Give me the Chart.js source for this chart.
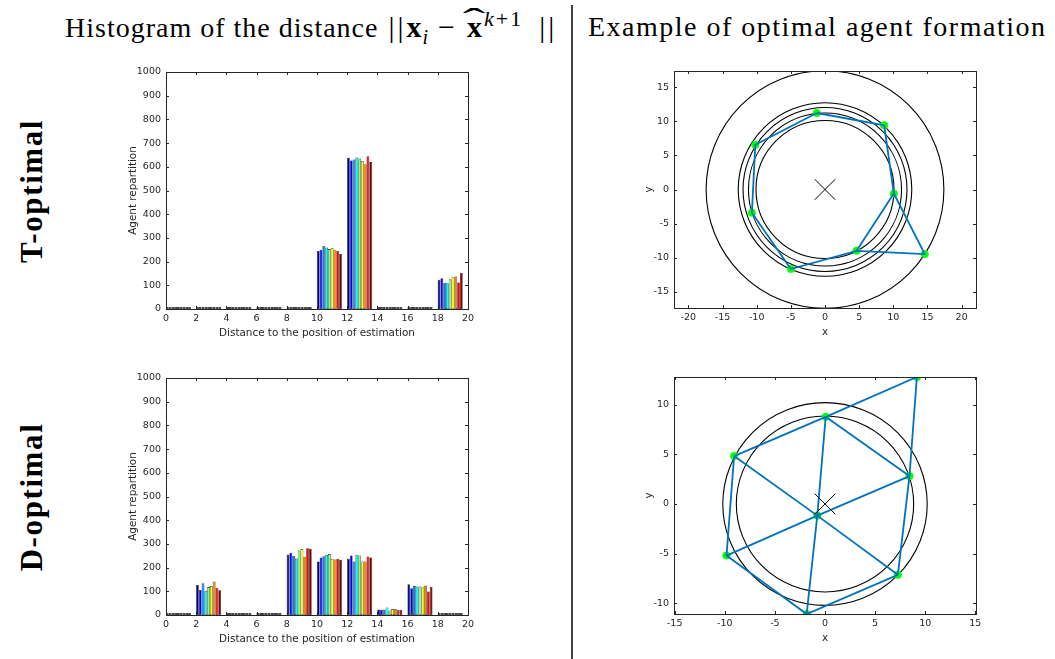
<!DOCTYPE html>
<html>
<head>
<meta charset="utf-8">
<script src="https://cdn.jsdelivr.net/npm/chart.js@4.4.1/dist/chart.umd.min.js"></script>
<style>
  html, body { margin: 0; padding: 0; background: #fff; }
  body { width: 1055px; height: 659px; position: relative; overflow: hidden; }
  canvas { position: absolute; }
  .title {
    position: absolute; top: 13px;
    font-family: 'Liberation Serif', serif; font-size: 28px; line-height: 28px;
    white-space: nowrap; color: #000;
  }
  #titleLeft { left: 65px; letter-spacing: 1px; }
  #titleRight { left: 588px; letter-spacing: 1.5px; }
  .math { letter-spacing: 0; font-size: 30px; margin-left: 2px; }
  .math b { font-weight: bold; }
  .bars { letter-spacing: 3px; }
  .minus { margin: 0 10px; }
  .hat { position: relative; display: inline-block; margin-left: 2px; }
  .hat::before {
    content: '\02C6'; position: absolute; left: 50%; top: -8px; font-size: 32px;
    transform: translateX(-50%) scaleX(2.1); font-weight: normal;
  }
  sub, sup { font-size: 20px; line-height: 0; }
  sub { margin-left: 1px; }
  sup { font-size: 22px; letter-spacing: 2px; margin-left: 2px; margin-right: 16px; }
  .rowLabel {
    position: absolute;
    font-family: 'Liberation Serif', serif; font-weight: bold;
    font-size: 31px; line-height: 31px; letter-spacing: 1.6px; white-space: nowrap;
    transform: translate(-50%, -50%) rotate(-90deg);
  }
  #divider { position: absolute; left: 571px; top: 5px; width: 1.5px; height: 654px; background: #444; }
</style>
</head>
<body>
<div class="title" id="titleLeft">Histogram of the distance <span class="math"><span class="bars">||</span><b>x</b><sub><i>i</i></sub><span class="minus">−</span><span class="hat"><b>x</b></span><sup><i>k</i>+1</sup><span class="bars">||</span></span></div>
<div class="title" id="titleRight">Example of optimal agent formation</div>
<div class="rowLabel" style="left:31px; top:191px;">T-optimal</div>
<div class="rowLabel" style="left:31px; top:497px;">D-optimal</div>
<div id="divider"></div>

<canvas id="histT" width="384" height="290" style="left:96px; top:60px;"></canvas>
<canvas id="histD" width="384" height="290" style="left:96px; top:366px;"></canvas>
<canvas id="formT" width="384" height="290" style="left:604px; top:59px;"></canvas>
<canvas id="formD" width="384" height="290" style="left:604px; top:365px;"></canvas>

<script>
// histogram bins (left edge of each 2-wide bin)
const binLeft = [0, 2, 4, 6, 8, 10, 12, 14, 16, 18];
const histXTicks = [0, 2, 4, 6, 8, 10, 12, 14, 16, 18, 20];
const histYTicks = [0, 100, 200, 300, 400, 500, 600, 700, 800, 900, 1000];

// one row per series (colour), one column per bin
const tOptimalCounts = [
  [0, 0, 0, 0, 0, 245, 638, 0, 0, 123],
  [0, 0, 0, 0, 0, 250, 627, 0, 0, 130],
  [0, 0, 0, 0, 0, 266, 631, 0, 0, 111],
  [0, 0, 0, 0, 0, 259, 639, 0, 0, 109],
  [0, 0, 0, 0, 0, 253, 635, 0, 0, 126],
  [0, 0, 0, 0, 0, 256, 625, 0, 0, 135],
  [0, 0, 0, 0, 0, 250, 611, 0, 0, 137],
  [0, 0, 0, 0, 0, 245, 645, 0, 0, 112],
  [0, 0, 0, 0, 0, 232, 620, 0, 0, 152]
];
const dOptimalCounts = [
  [0, 127, 0, 0, 255, 226, 237, 23, 130, 0],
  [0, 106, 0, 0, 263, 243, 251, 22, 113, 0],
  [0, 134, 0, 0, 249, 248, 226, 23, 122, 0],
  [0, 102, 0, 0, 238, 254, 254, 32, 120, 0],
  [0, 118, 0, 0, 272, 257, 251, 19, 120, 0],
  [0, 122, 0, 0, 278, 237, 226, 25, 117, 0],
  [0, 141, 0, 0, 246, 234, 226, 24, 124, 0],
  [0, 115, 0, 0, 282, 237, 247, 22, 99, 0],
  [0, 104, 0, 0, 280, 233, 243, 22, 119, 0]
];

// jet colormap, 9 steps
const jetColors = ['#000080', '#0000ff', '#0080ff', '#00ffff', '#80ff80', '#ffff00', '#ff8000', '#ff0000', '#800000'];

// agent formations
const tAgentX = [-1.2, 8.66, 10.07, 14.6, 4.62, -5.0, -10.7, -10.2];
const tAgentY = [11.2, 9.4, -0.58, -9.46, -8.98, -11.65, -3.4, 6.55];
const tPath = [0, 1, 2, 3, 4, 5, 6, 7, 0, null, 2, 4];
const tRadii = [17.4, 12.7, 12.0, 11.2, 10.1];
const tXTicks = [-20, -15, -10, -5, 0, 5, 10, 15, 20];
const tYTicks = [-15, -10, -5, 0, 5, 10, 15];

const dAgentX = [9.17, 0.07, -9.07, 8.43, -0.77, -9.83, 7.27, -1.83];
const dAgentY = [12.78, 8.77, 4.82, 2.81, -1.17, -5.19, -7.13, -11.08];
const dPath = [2, 1, 0, 3, 6, 7, 5, 2, null, 1, 3, null, 1, 4, 7, null, 2, 4, 6, null, 5, 4, 3];
const dRadii = [10.2, 8.85];
const dXTicks = [-15, -10, -5, 0, 5, 10, 15];
const dYTicks = [-10, -5, 0, 5, 10];

const AXIS_COLOR = '#262626';
const tickFont = { family: 'DejaVu Sans', size: 9.5 };
const titleFont = { family: 'DejaVu Sans', size: 10.4 };
const GROUP_SHIFT = 0.82;   // bar groups sit right of the bin edge

Chart.defaults.animation = false;
Chart.defaults.plugins.legend.display = false;
Chart.defaults.plugins.tooltip.enabled = false;

// box around the plot area with inward ticks on all four sides
const frame = {
  id: 'frame',
  afterDatasetsDraw(chart) {
    const { ctx, chartArea: a, scales: { x, y } } = chart;
    const len = 3;
    ctx.save();
    ctx.strokeStyle = AXIS_COLOR;
    ctx.lineWidth = 1;
    ctx.strokeRect(a.left + 0.5, a.top + 0.5, a.right - a.left, a.bottom - a.top);
    ctx.beginPath();
    x.ticks.forEach(t => {
      const px = Math.round(x.getPixelForValue(t.value)) + 0.5;
      ctx.moveTo(px, a.bottom); ctx.lineTo(px, a.bottom - len);
      ctx.moveTo(px, a.top); ctx.lineTo(px, a.top + len);
    });
    y.ticks.forEach(t => {
      const py = Math.round(y.getPixelForValue(t.value)) + 0.5;
      ctx.moveTo(a.left, py); ctx.lineTo(a.left + len, py);
      ctx.moveTo(a.right, py); ctx.lineTo(a.right - len, py);
    });
    ctx.stroke();
    ctx.restore();
  }
};

// circles centred on the origin
const rings = {
  id: 'rings',
  beforeDatasetsDraw(chart, args, opts) {
    if (!opts.radii) return;
    const { ctx, chartArea: a, scales: { x, y } } = chart;
    const cx = x.getPixelForValue(0), cy = y.getPixelForValue(0);
    ctx.save();
    ctx.beginPath();
    ctx.rect(a.left, a.top, a.right - a.left, a.bottom - a.top);
    ctx.clip();
    ctx.strokeStyle = '#000';
    ctx.lineWidth = 1.1;
    opts.radii.forEach(r => {
      ctx.beginPath();
      ctx.ellipse(cx, cy, Math.abs(x.getPixelForValue(r) - cx), Math.abs(y.getPixelForValue(r) - cy), 0, 0, Math.PI * 2);
      ctx.stroke();
    });
    ctx.restore();
  }
};

function axis(min, max, ticks, title, isX, titlePad) {
  return {
    type: 'linear',
    min: min,
    max: max,
    offset: false,
    afterBuildTicks: s => { s.ticks = ticks.map(v => ({ value: v })); },
    afterFit: s => { if (isX) s.height = 41; else s.width = 70; },
    grid: { display: false, drawTicks: false, offset: false },
    border: { display: false },
    ticks: {
      font: tickFont, color: AXIS_COLOR, padding: isX ? 4 : 5,
      autoSkip: false, maxRotation: 0,
      callback: v => String(v)
    },
    title: {
      display: true, text: title, font: titleFont, color: AXIS_COLOR,
      padding: isX ? { top: 0, bottom: titlePad } : { top: titlePad, bottom: 0 }
    }
  };
}

function histChart(id, counts) {
  const datasets = counts.map((row, i) => ({
    data: row.map((v, j) => ({ x: binLeft[j] + GROUP_SHIFT, y: v })),
    backgroundColor: ctx => (ctx.raw && ctx.raw.y === 0 ? '#111' : jetColors[i]),
    borderColor: '#1a1a1a',
    borderWidth: 0.6,
    borderSkipped: false,
    minBarLength: 2
  }));
  return new Chart(document.getElementById(id), {
    type: 'bar',
    data: { datasets },
    plugins: [frame],
    options: {
      responsive: false,
      layout: { autoPadding: false, padding: { left: 0, right: 12, top: 12, bottom: 0 } },
      datasets: { bar: { categoryPercentage: 0.83, barPercentage: 1.0 } },
      scales: {
        x: axis(0, 20, histXTicks, 'Distance to the position of estimation', true, 10),
        y: axis(0, 1000, histYTicks, 'Agent repartition', false, 31)
      }
    }
  });
}

function formationChart(id, ax, ay, path, radii, xr, yr, xTicks, yTicks) {
  const pathData = path.map(k => (k === null ? { x: null, y: null } : { x: ax[k], y: ay[k] }));
  const agents = ax.map((x, i) => ({ x: x, y: ay[i] }));
  return new Chart(document.getElementById(id), {
    type: 'line',
    data: {
      datasets: [
        { data: [{ x: 0, y: 0 }], showLine: false, pointStyle: 'crossRot', pointRadius: 14.5,
          pointBorderColor: '#000', pointBorderWidth: 1, order: 0 },
        { data: pathData, borderColor: '#0072bd', borderWidth: 1.8, pointRadius: 0, spanGaps: false, order: 1 },
        { data: agents, showLine: false, pointRadius: 3.8, pointBackgroundColor: '#00ff00',
          pointBorderColor: '#00ff00', pointBorderWidth: 0.5, order: 2 }
      ]
    },
    plugins: [rings, frame],
    options: {
      responsive: false,
      layout: { autoPadding: false, padding: { left: 0, right: 12, top: 12, bottom: 0 } },
      plugins: { rings: { radii: radii } },
      scales: {
        x: axis(xr[0], xr[1], xTicks, 'x', true, 10),
        y: axis(yr[0], yr[1], yTicks, 'y', false, 39)
      }
    }
  });
}

histChart('histT', tOptimalCounts);
histChart('histD', dOptimalCounts);
formationChart('formT', tAgentX, tAgentY, tPath, tRadii, [-22.1, 22.1], [-17.35, 17.35], tXTicks, tYTicks);
formationChart('formD', dAgentX, dAgentY, dPath, dRadii, [-15.07, 15.07], [-11.07, 12.78], dXTicks, dYTicks);
</script>
</body>
</html>
